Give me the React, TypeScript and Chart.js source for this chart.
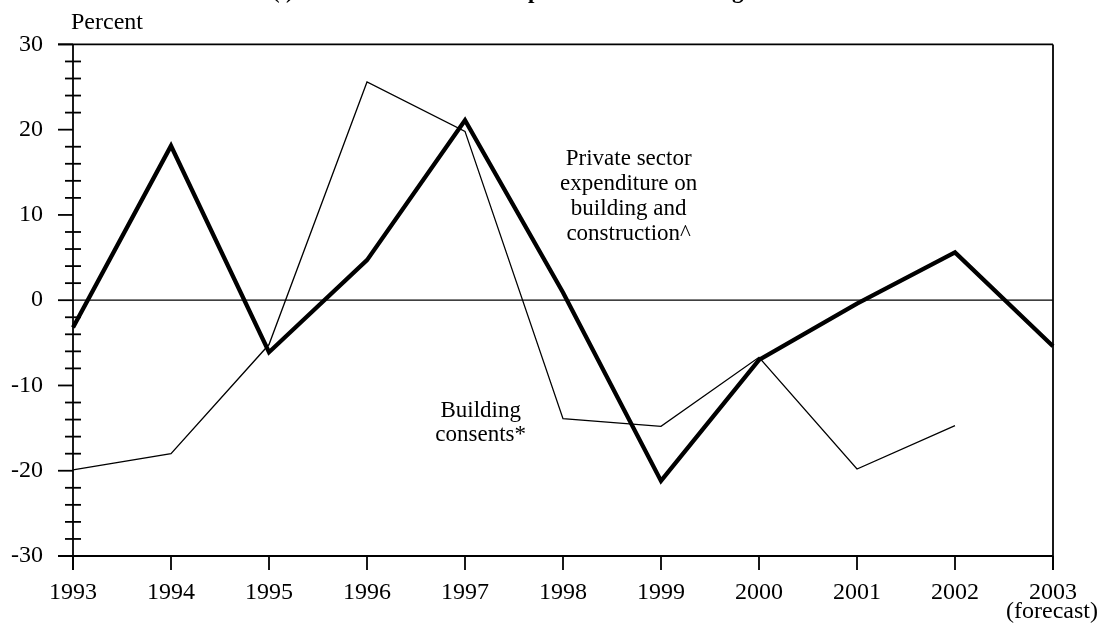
import React, { useEffect, useRef } from 'react';
import { Chart, registerables } from 'chart.js';

Chart.register(...registerables);

const years = ['1993', '1994', '1995', '1996', '1997', '1998', '1999', '2000', '2001', '2002', '2003'];
const expenditure = [-3.2, 18.1, -6.1, 4.7, 21.1, 0.9, -21.2, -7.0, -0.4, 5.6, -5.4];
const consents = [-19.9, -18.0, -5.2, 25.6, 19.8, -13.9, -14.8, -6.7, -19.8, -14.7, null];
const yMin = -30;
const yMax = 30;
const yMajorStep = 10;
const yMinorStep = 2;
const titleText = '(i) Total Private Sector Expenditure on Building and Construction';
const yAxisTitle = 'Percent';
const forecastNote = '(forecast)';
const consentsLabel = ['Building', 'consents*'];
const expenditureLabel = ['Private sector', 'expenditure on', 'building and', 'construction^'];

const FONT = "'Liberation Serif', 'Times New Roman', serif";

function seg(ctx: CanvasRenderingContext2D, x1: number, y1: number, x2: number, y2: number) {
  ctx.beginPath();
  ctx.moveTo(x1, y1);
  ctx.lineTo(x2, y2);
  ctx.stroke();
}

const decor = {
  id: 'decor',
  beforeDatasetsDraw(chart: any) {
    const { ctx, chartArea: a, scales } = chart;
    const y0 = scales.y.getPixelForValue(0);
    ctx.save();
    ctx.strokeStyle = '#000';
    ctx.lineWidth = 1.2;
    seg(ctx, a.left, y0, a.right, y0);
    ctx.restore();
  },
  afterDatasetsDraw(chart: any) {
    const { ctx, chartArea: a, scales } = chart;
    const xs = scales.x;
    const ys = scales.y;
    ctx.save();
    ctx.strokeStyle = '#000';
    ctx.lineWidth = 1.8;
    seg(ctx, a.left, a.top, a.left, a.bottom + 14);
    seg(ctx, a.right, a.top, a.right, a.bottom + 14);
    seg(ctx, a.left - 15, a.top, a.right, a.top);
    seg(ctx, a.left - 15, a.bottom, a.right, a.bottom);
    for (let v = yMin; v <= yMax; v += yMinorStep) {
      const py = ys.getPixelForValue(v);
      if (v % yMajorStep === 0) seg(ctx, a.left - 15, py, a.left, py);
      else seg(ctx, a.left - 8, py, a.left + 8, py);
    }
    years.forEach((_, i) => {
      const px = xs.getPixelForValue(i);
      seg(ctx, px, a.bottom, px, a.bottom + 14);
    });

    ctx.fillStyle = '#000';
    // title (clipped at top of page)
    ctx.font = `bold 23px ${FONT}`;
    ctx.textAlign = 'left';
    ctx.textBaseline = 'alphabetic';
    ctx.fillText(titleText, 272, -2);

    ctx.font = `24px ${FONT}`;
    ctx.fillText(yAxisTitle, a.left - 2, 29);

    ctx.textAlign = 'center';
    ctx.fillText(forecastNote, xs.getPixelForValue(years.length - 1) - 1, 618);

    ctx.font = `23px ${FONT}`;
    const cx = xs.getPixelForValue(4.16);
    const cy = ys.getPixelForValue(-13.7);
    consentsLabel.forEach((t, i) => ctx.fillText(t, cx, cy + i * 24));

    const ex = xs.getPixelForValue(5.67);
    const ey = ys.getPixelForValue(15.9);
    expenditureLabel.forEach((t, i) => ctx.fillText(t, ex, ey + i * 25));
    ctx.restore();
  },
};

export default function App() {
  const ref = useRef<HTMLCanvasElement>(null);
  useEffect(() => {
    document.body.style.margin = '0';
    const chart = new Chart(ref.current!, {
      type: 'line',
      data: {
        labels: years,
        datasets: [
          {
            data: consents,
            borderColor: '#000',
            borderWidth: 1.3,
            pointRadius: 0,
            tension: 0,
            fill: false,
          },
          {
            data: expenditure,
            borderColor: '#000',
            borderWidth: 4.3,
            pointRadius: 0,
            tension: 0,
            fill: false,
            borderJoinStyle: 'miter',
          },
        ],
      },
      options: {
        responsive: false,
        animation: false,
        layout: { padding: { left: 0, right: 43, top: 43, bottom: 0 } },
        plugins: {
          legend: { display: false },
          tooltip: { enabled: false },
          title: { display: false },
        },
        scales: {
          x: {
            type: 'category',
            offset: false,
            grid: { display: false, drawTicks: false },
            border: { display: false },
            ticks: {
              font: { family: FONT, size: 24 },
              color: '#000',
              padding: 22,
              maxRotation: 0,
              autoSkip: false,
            },
            afterFit(s: any) {
              s.height = 67;
            },
          },
          y: {
            min: yMin,
            max: yMax,
            grid: { display: false, drawTicks: false },
            border: { display: false },
            ticks: {
              stepSize: yMajorStep,
              font: { family: FONT, size: 24 },
              color: '#000',
              padding: 30,
            },
            afterFit(s: any) {
              s.width = 73;
            },
          },
        },
      },
      plugins: [decor],
    } as any);
    return () => chart.destroy();
  }, []);
  return (
    <div style={{ width: 1099, height: 623 }}>
      <canvas ref={ref} width={1099} height={623} style={{ display: 'block' }} />
    </div>
  );
}
